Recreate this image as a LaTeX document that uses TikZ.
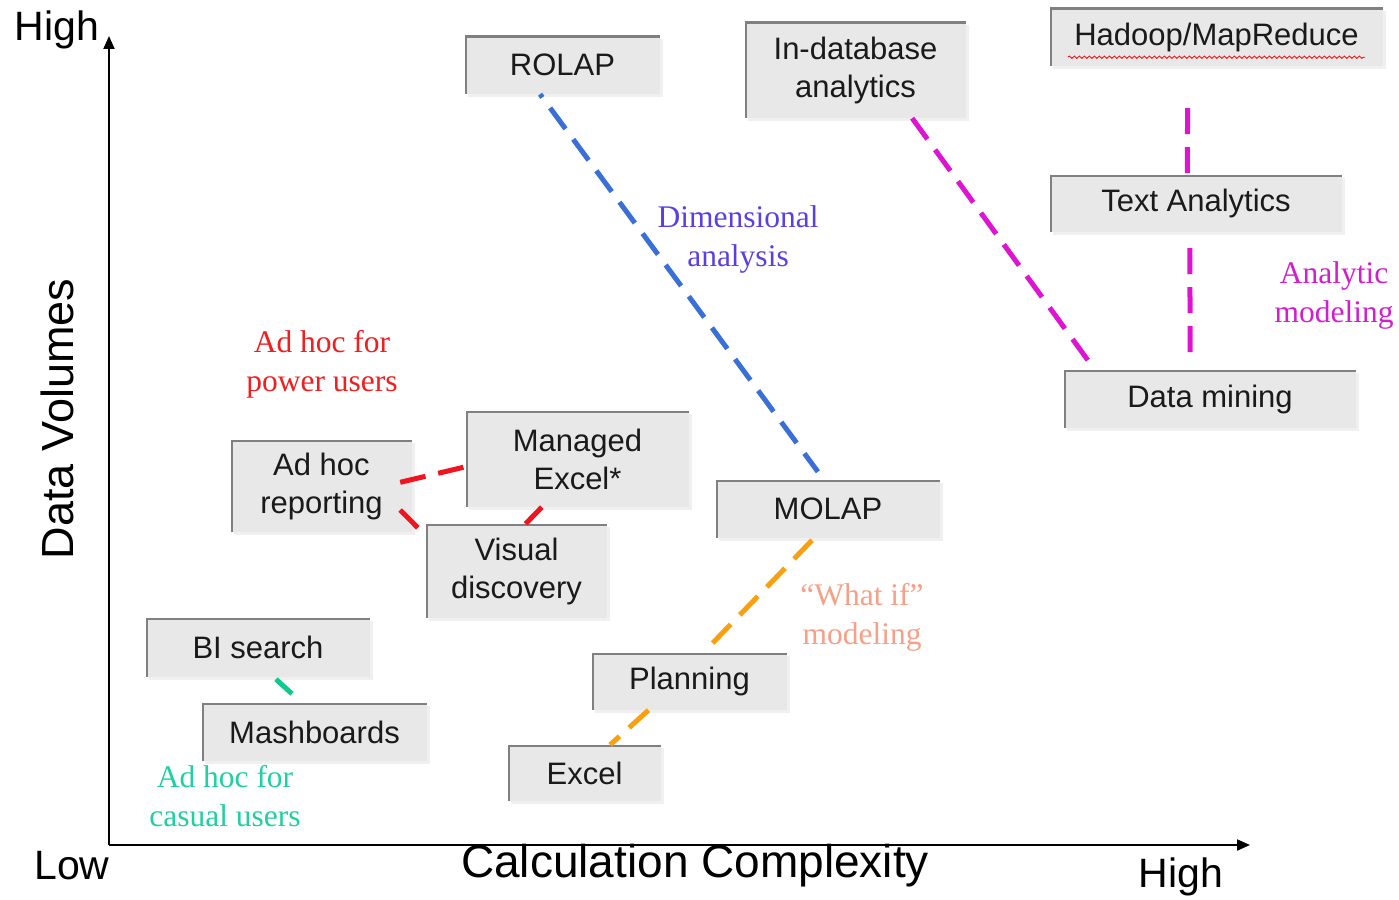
\documentclass[tikz,border=0pt]{standalone}
\usepackage{fontspec}
\setmainfont{Liberation Sans}
\newfontfamily\labelfont{Liberation Serif}
\usetikzlibrary{calc,decorations.pathmorphing,arrows.meta,shadows}

\definecolor{boxfill}{RGB}{232,232,232}
\definecolor{boxedge}{RGB}{128,128,128}
\definecolor{boxtext}{RGB}{26,26,26}
\definecolor{dimblue}{RGB}{58,111,216}
\definecolor{dimtext}{RGB}{88,64,228}
\definecolor{anmag}{RGB}{222,20,210}
\definecolor{antext}{RGB}{210,30,205}
\definecolor{pwred}{RGB}{240,20,30}
\definecolor{pwtext}{RGB}{240,30,30}
\definecolor{wiorange}{RGB}{248,160,16}
\definecolor{witext}{RGB}{245,160,135}
\definecolor{csgreen}{RGB}{16,200,144}
\definecolor{cstext}{RGB}{32,208,160}

\begin{document}
\begin{tikzpicture}[x=1pt,y=-1pt,
  box/.style={fill=boxfill, text=boxtext, inner sep=0pt, align=center,
    font=\fontsize{31}{38}\selectfont,
    drop shadow={shadow xshift=3pt, shadow yshift=-3pt, opacity=0.12},
    path picture={\draw[boxedge,line width=4pt]
      (path picture bounding box.south west) -- (path picture bounding box.north west)
      -- (path picture bounding box.north east);}},
  lbl/.style={align=center, inner sep=0pt, font=\labelfont\fontsize{31.5}{39}\selectfont},
  axislabel/.style={inner sep=0pt, font=\fontsize{41}{46}\selectfont, text=black},
  conn/.style={line width=5pt, dash pattern=on 26pt off 13pt},
  axis/.style={line width=2pt, -{Triangle[length=13pt,width=11pt]}}
]
\useasboundingbox (0,0) rectangle (1399,899);

% axes
\coordinate (origin) at (109,845);
\coordinate (ytop) at (109,36);
\coordinate (xend) at (1250,845);
\draw[axis] (origin) -- (ytop);
\draw[axis] (origin) -- (xend);

\node[axislabel] (yhigh) at (57,30) {High};
\node[axislabel] (xlow) at (72,866) {Low};
\node[axislabel] (xhigh) at (1181,877) {High};
\node[axislabel, font=\fontsize{46}{50}\selectfont] (xtitle) at (695,866) {Calculation Complexity};
\node[axislabel, font=\fontsize{45}{50}\selectfont, rotate=90] (ytitle) at (57,419) {Data Volumes};

% boxes
\node[box, minimum width=195pt, minimum height=58pt] (rolap) at (562.5,65) {ROLAP};
\node[box, minimum width=221pt, minimum height=96pt] (indb) at (855.5,70) {In-database\\analytics};
\node[box, minimum width=333pt, minimum height=58pt] (hadoop) at (1216.5,37) {Hadoop/MapReduce};
\node[box, minimum width=292pt, minimum height=57pt] (text) at (1196,203.5) {Text Analytics};
\node[box, minimum width=292pt, minimum height=58pt] (mining) at (1210,399) {Data mining};
\node[box, minimum width=181pt, minimum height=92pt] (adhoc) at (321.5,486) {Ad hoc\\reporting};
\node[box, minimum width=223pt, minimum height=96pt] (mexcel) at (577.5,459) {Managed\\Excel*};
\node[box, minimum width=181pt, minimum height=94pt] (visual) at (516.5,571) {Visual\\discovery};
\node[box, minimum width=224pt, minimum height=58pt] (molap) at (828,509) {MOLAP};
\node[box, minimum width=224pt, minimum height=59pt] (bisearch) at (258,647.5) {BI search};
\node[box, minimum width=225pt, minimum height=58pt] (mash) at (314.5,732) {Mashboards};
\node[box, minimum width=195pt, minimum height=57pt] (planning) at (689.5,681.5) {Planning};
\node[box, minimum width=153pt, minimum height=56pt] (excel) at (584.5,773) {Excel};

% spell-check squiggle under Hadoop/MapReduce
\draw[red, line width=0.8pt, decorate, decoration={snake, amplitude=1.2pt, segment length=5pt}]
  ($(hadoop.south west)+(18,-9)$) -- ($(hadoop.south east)+(-18,-9)$);

% connectors
\draw[conn, dimblue, dash phase=22pt] ($(rolap.south west)!0.385!(rolap.south east)$)
  -- ($(molap.north west)!0.455!(molap.north east)+(0,-8)$);
\draw[conn, anmag] ($(indb.south west)!0.756!(indb.south east)$)
  -- ($(mining.north west)!0.106!(mining.north east)$);
\draw[conn, anmag, shorten <=42pt] ($(hadoop.south west)!0.414!(hadoop.south east)$)
  -- ($(text.north west)!0.47!(text.north east)$);
\draw[conn, anmag, shorten <=16pt, shorten >=12pt] ($(text.south west)!0.479!(text.south east)$)
  -- ($(mining.north west)!0.432!(mining.north east)$);

\draw[conn, pwred] ($(adhoc.north east)!0.46!(adhoc.south east)+(-12,0)$)
  -- ($(mexcel.north west)!0.58!(mexcel.south west)$);
\draw[conn, pwred] ($(adhoc.north east)!0.76!(adhoc.south east)+(-12,0)$)
  -- ($(visual.north west)+(-8,4)$);
\draw[conn, pwred] ($(mexcel.south west)!0.34!(mexcel.south east)$)
  -- ($(visual.north west)!0.55!(visual.north east)$);

\draw[conn, csgreen] ($(bisearch.south west)!0.58!(bisearch.south east)+(0,2)$)
  -- ($(mash.north west)!0.40!(mash.north east)+(0,-9)$);

\draw[conn, wiorange] ($(molap.south west)!0.429!(molap.south east)+(0,2)$)
  -- ($(planning.north west)!0.58!(planning.north east)+(0,-2)$);
\draw[conn, wiorange] ($(planning.south west)!0.29!(planning.south east)$)
  -- ($(excel.north west)!0.667!(excel.north east)$);

% labels
\node[lbl, text=dimtext] (dimlbl) at (738,239) {Dimensional\\analysis};
\node[lbl, text=pwtext] (pwlbl) at (322,364) {Ad hoc for\\power users};
\node[lbl, text=antext] (anlbl) at (1334,295) {Analytic\\modeling};
\node[lbl, text=witext] (wilbl) at (862,617) {“What if”\\modeling};
\node[lbl, text=cstext] (cslbl) at (225,796) {Ad hoc for\\casual users};
\end{tikzpicture}
\end{document}
